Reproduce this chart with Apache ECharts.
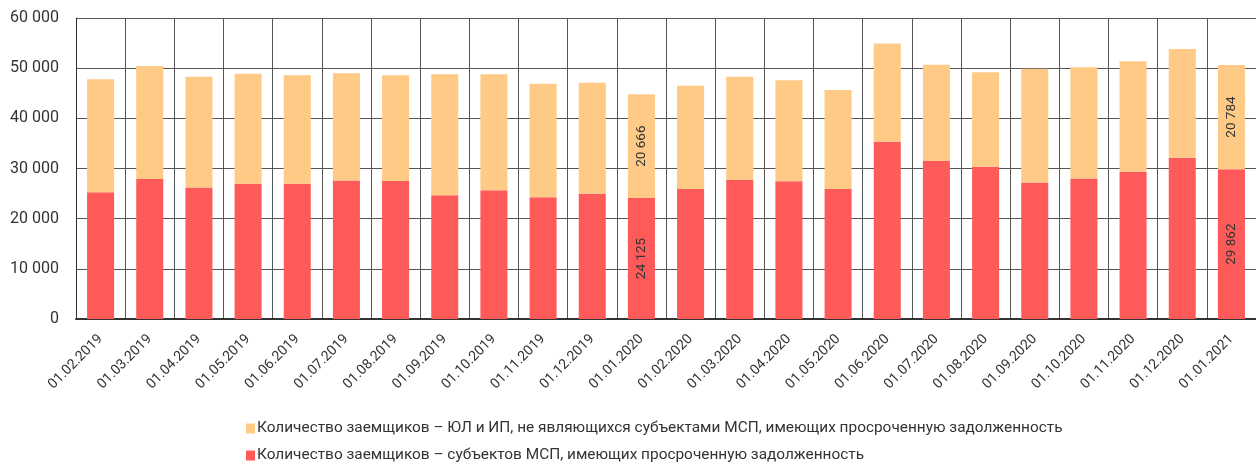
<!DOCTYPE html>
<html><head><meta charset="utf-8">
<script src="https://cdn.jsdelivr.net/npm/echarts@6/dist/echarts.min.js"></script>
<style>html,body{margin:0;padding:0;background:#fff}#c{width:1256px;height:466px}</style>
</head><body><div id="c"></div>
<script>
const categories = ['01.02.2019','01.03.2019','01.04.2019','01.05.2019','01.06.2019','01.07.2019','01.08.2019','01.09.2019','01.10.2019','01.11.2019','01.12.2019','01.01.2020','01.02.2020','01.03.2020','01.04.2020','01.05.2020','01.06.2020','01.07.2020','01.08.2020','01.09.2020','01.10.2020','01.11.2020','01.12.2020','01.01.2021'];
const smeBorrowers = [25250,27900,26200,26970,26970,27600,27500,24650,25650,24250,24980,24125,25900,27770,27440,25900,35350,31500,30360,27200,28000,29370,32160,29862];
const nonSmeBorrowers = [22550,22530,22100,21930,21630,21400,21100,24150,23120,22650,22120,20666,20600,20530,20130,19740,19590,19200,18840,22700,22200,21990,21640,20784];
const labeledIdx = [11, 23];
const yTicks = {min: 0, max: 60000, interval: 10000};
const nameSme = 'Количество заемщиков – субъектов МСП, имеющих просроченную задолженность';
const nameNonSme = 'Количество заемщиков – ЮЛ и ИП, не являющихся субъектами МСП, имеющих просроченную задолженность';

const fmt = v => String(v).replace(/\B(?=(\d{3})+(?!\d))/g, ' ');
const mk = arr => arr.map((v, i) => labeledIdx.includes(i) ? {value: v, label: {show: true}} : v);
const FONT = 'Roboto';
const legendBase = {
  orient: 'horizontal', left: 246, padding: 0,
  itemWidth: 9, itemHeight: 10, icon: 'rect',
  textStyle: {fontFamily: FONT, fontSize: 15.4, color: '#333', padding: [0,0,0,-3]}
};
const chart = echarts.init(document.getElementById('c'), null, {renderer: 'canvas'});
chart.setOption({
  animation: false,
  grid: {left: 76, right: 0, top: 18, bottom: 147, containLabel: false},
  legend: [
    Object.assign({}, legendBase, {top: 421, data: [nameNonSme]}),
    Object.assign({}, legendBase, {top: 448, data: [nameSme]})
  ],
  xAxis: {
    type: 'category', data: categories,
    axisLine: {lineStyle: {color: '#333', width: 2}},
    axisTick: {show: false},
    splitLine: {show: true, interval: 0, lineStyle: {color: '#555', width: 1}},
    axisLabel: {interval: 0, rotate: 45, margin: 18, fontFamily: FONT, fontSize: 14, color: '#333'}
  },
  yAxis: {
    type: 'value', min: yTicks.min, max: yTicks.max, interval: yTicks.interval,
    axisLine: {show: true, lineStyle: {color: '#333', width: 1}},
    axisTick: {show: false},
    splitLine: {lineStyle: {color: '#555', width: 1}},
    axisLabel: {formatter: fmt, margin: 17, fontFamily: FONT, fontSize: 16, color: '#333'}
  },
  series: [
    {name: nameSme, type: 'bar', stack: 's', barWidth: '55%', data: mk(smeBorrowers),
     itemStyle: {color: '#FF5A5A'},
     label: {show: false, position: 'inside', rotate: 90, formatter: p => fmt(p.value), fontFamily: FONT, fontSize: 13.5, color: '#333'}},
    {name: nameNonSme, type: 'bar', stack: 's', barWidth: '55%', data: mk(nonSmeBorrowers),
     itemStyle: {color: '#FECA86'},
     label: {show: false, position: 'inside', rotate: 90, formatter: p => fmt(p.value), fontFamily: FONT, fontSize: 13.5, color: '#333'}}
  ]
});
</script></body></html>
